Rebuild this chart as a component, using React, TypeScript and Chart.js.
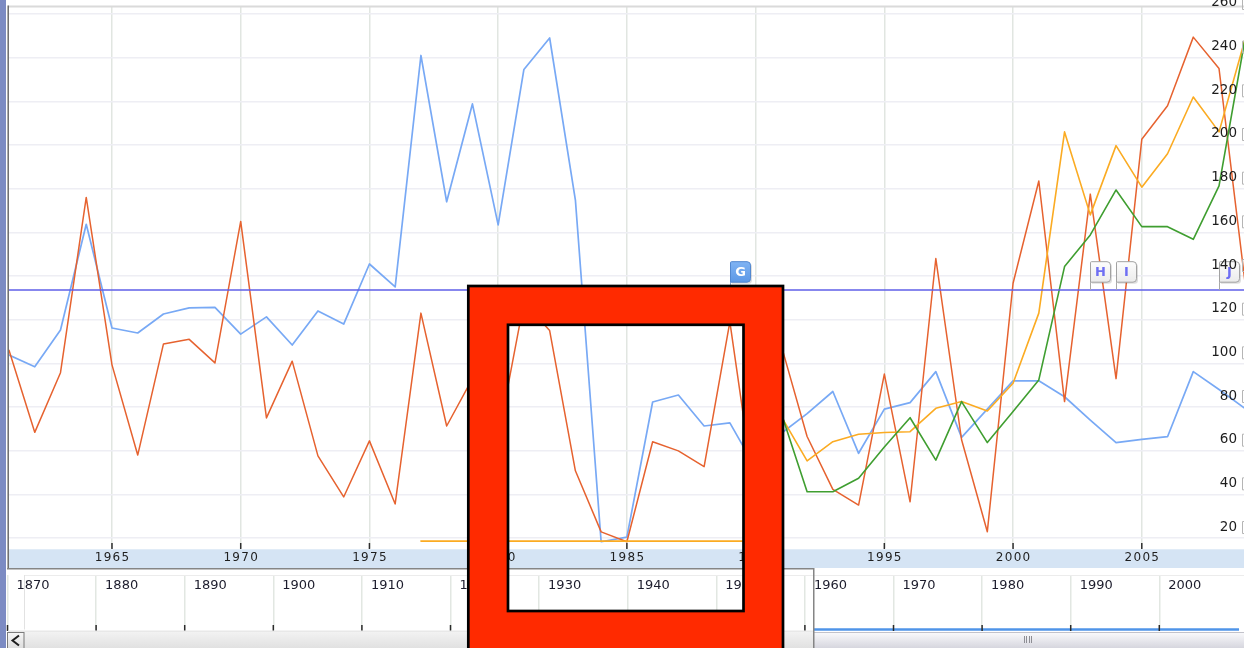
import React, { useEffect, useRef } from "react";
import { Chart, registerables } from "chart.js";

Chart.register(...registerables);

const W = 1244;
const H = 648;
const MAIN_H = 568;
const NAV_H = 80;

// ---------- data ----------
const years = [
  1961, 1962, 1963, 1964, 1965, 1966, 1967, 1968, 1969, 1970,
  1971, 1972, 1973, 1974, 1975, 1976, 1977, 1978, 1979, 1980,
  1981, 1982, 1983, 1984, 1985, 1986, 1987, 1988, 1989, 1990,
  1991, 1992, 1993, 1994, 1995, 1996, 1997, 1998, 1999, 2000,
  2001, 2002, 2003, 2004, 2005, 2006, 2007, 2008, 2009,
];

const seriesBlue = [
  103.8, 98.4, 115.3, 163.7, 116.2, 113.9, 122.6, 125.4, 125.6, 113.4,
  121.3, 108.4, 124, 118, 145.5, 135, 241, 174, 218.8, 163.4,
  234.6, 249, 174.8, 18.3, 20.4, 82.3, 85.5, 71.3, 72.7, 52,
  68, 77, 87.1, 58.8, 79, 82, 96.2, 66.1, 79, 92,
  92, 84.7, 74, 63.7, 65.2, 66.4, 96.2, 88, 79.4,
];

const seriesRed = [
  106, 68.4, 95.7, 176, 99.3, 58, 108.9, 111, 100.2, 165,
  75, 101, 57.6, 38.8, 64.5, 35.6, 123, 71.3, 93, 66,
  128, 115, 50.8, 22.8, 18.3, 64.1, 59.9, 52.7, 119, 37,
  108, 66.5, 42.3, 35.1, 95.1, 36.6, 148, 65, 22.9, 136.7,
  183.5, 82.5, 177.5, 93, 202.6, 218, 249.4, 235, 138,
];

const seriesOrange = [
  null, null, null, null, null, null, null, null, null, null,
  null, null, null, null, null, null, 18.6, 18.6, 18.6, 18.6,
  18.6, 18.6, 18.6, 18.6, 18.6, 18.6, 18.6, 18.6, 18.6, 18.6,
  75.6, 55.3, 64.1, 67.5, 68.3, 68.7, 79.4, 82.5, 78.2, 90.9,
  123, 206, 168, 199.7, 180.7, 196, 222, 206, 248,
];

const seriesGreen = [
  null, null, null, null, null, null, null, null, null, null,
  null, null, null, null, null, null, null, null, null, null,
  null, null, null, null, null, null, null, null, null, null,
  77, 41.2, 41.2, 47.4, 61.7, 75.1, 55.7, 82.5, 63.7, 77.9,
  92.4, 144.3, 158.8, 179.4, 162.6, 162.6, 156.8, 181.3, 248,
];

const referenceLevel = 133.6;

const yTickValues = [20, 40, 60, 80, 100, 120, 140, 160, 180, 200, 220, 240, 260];
const xTickYears = [1965, 1970, 1975, 1980, 1985, 1990, 1995, 2000, 2005];
const navDecades = [1870, 1880, 1890, 1900, 1910, 1920, 1930, 1940, 1950, 1960, 1970, 1980, 1990, 2000];

const annotationYears = [1989, 2003, 2004, 2008];
const annotationLabels = ["G", "H", "I", "J"];
const activeAnnotation = "G";

// ---------- helpers ----------
function toPoints(values: (number | null)[]) {
  return years.map((yr, i) => ({ x: yr, y: values[i] }));
}

function flagPath(ctx: CanvasRenderingContext2D, x: number, y: number, w: number, h: number, r: number) {
  ctx.beginPath();
  ctx.moveTo(x, y + 1);
  ctx.quadraticCurveTo(x, y, x + 1, y);
  ctx.lineTo(x + w - r, y);
  ctx.quadraticCurveTo(x + w, y, x + w, y + r);
  ctx.lineTo(x + w, y + h - r);
  ctx.quadraticCurveTo(x + w, y + h, x + w - r, y + h);
  ctx.lineTo(x, y + h);
  ctx.closePath();
}

const mainDecor = {
  id: "mainDecor",
  afterDatasetsDraw(chart: any) {
    const { ctx, scales } = chart;
    const xs = scales.x;
    const ys = scales.y;
    const lineY = ys.getPixelForValue(referenceLevel);
    ctx.save();
    annotationYears.forEach((yr, i) => {
      const label = annotationLabels[i];
      const active = label === activeAnnotation;
      const fx = Math.round(xs.getPixelForValue(yr)) + 0.5;
      const w = 20;
      const h = 20.5;
      const top = lineY - 28.3;
      ctx.strokeStyle = active ? "#8aa9d2" : "#a8a8a8";
      ctx.lineWidth = 1;
      ctx.beginPath();
      ctx.moveTo(fx, top + h);
      ctx.lineTo(fx, lineY);
      ctx.stroke();
      ctx.fillStyle = "rgba(0,0,0,0.13)";
      flagPath(ctx, fx + 1.5, top + 1.5, w, h, 3.5);
      ctx.fill();
      const g = ctx.createLinearGradient(0, top, 0, top + h);
      if (active) {
        g.addColorStop(0, "#7fb3f3");
        g.addColorStop(1, "#5c98e6");
      } else {
        g.addColorStop(0, "#fdfdfd");
        g.addColorStop(1, "#ebebeb");
      }
      ctx.fillStyle = g;
      flagPath(ctx, fx, top, w, h, 3.5);
      ctx.fill();
      ctx.strokeStyle = active ? "#5288d0" : "#a2a2a2";
      ctx.lineWidth = 1;
      ctx.stroke();
      ctx.font = 'bold 13px "DejaVu Sans"';
      ctx.textAlign = "center";
      ctx.textBaseline = "middle";
      ctx.fillStyle = active ? "#ffffff" : "#6e6ef3";
      ctx.fillText(label, fx + w / 2, top + h / 2 + 0.5);
    });
    ctx.restore();
  },
  afterDraw(chart: any) {
    const { ctx, chartArea: ca, scales } = chart;
    const xs = scales.x;
    const ys = scales.y;
    ctx.save();
    // top border
    ctx.strokeStyle = "#dadada";
    ctx.lineWidth = 2;
    ctx.beginPath();
    ctx.moveTo(8, ca.top - 0.5);
    ctx.lineTo(W, ca.top - 0.5);
    ctx.stroke();
    // left border
    ctx.strokeStyle = "#6a6a6a";
    ctx.lineWidth = 1.5;
    ctx.beginPath();
    ctx.moveTo(8.2, ca.top - 1.5);
    ctx.lineTo(8.2, MAIN_H);
    ctx.stroke();
    // date band
    ctx.fillStyle = "#d5e4f4";
    ctx.fillRect(ca.left, ca.bottom + 1.3, W - ca.left, MAIN_H - ca.bottom - 1.3);
    // ticks + labels
    ctx.strokeStyle = "#2e2e2e";
    ctx.lineWidth = 1.5;
    ctx.fillStyle = "#1f1f1f";
    ctx.font = '12px "DejaVu Sans"';
    (ctx as any).letterSpacing = "1.3px";
    ctx.textAlign = "center";
    ctx.textBaseline = "middle";
    xTickYears.forEach((v) => {
      const px = xs.getPixelForValue(v);
      ctx.beginPath();
      ctx.moveTo(px, ca.bottom - 5);
      ctx.lineTo(px, ca.bottom + 1);
      ctx.stroke();
      ctx.fillText(String(v), px + 0.6, ca.bottom + 10);
    });
    (ctx as any).letterSpacing = "0px";
    // y labels (inside, right side)
    ctx.font = '13.5px "DejaVu Sans"';
    ctx.textAlign = "right";
    ctx.fillStyle = "#1c1c1c";
    yTickValues.forEach((v) => {
      const py = ys.getPixelForValue(v);
      ctx.fillText(String(v), 1237, py - 11);
      ctx.strokeStyle = "#b5b5b5";
      ctx.lineWidth = 1;
      ctx.beginPath();
      ctx.moveTo(1244, py - 16.5);
      ctx.lineTo(1242.5, py - 16.5);
      ctx.lineTo(1242.5, py - 4.5);
      ctx.lineTo(1244, py - 4.5);
      ctx.stroke();
    });
    ctx.restore();
  },
};

const navDecor = {
  id: "navDecor",
  afterDraw(chart: any) {
    const { ctx, chartArea: ca, scales } = chart;
    const xs = scales.x;
    const selX = xs.getPixelForValue(years[0]);
    ctx.save();
    ctx.strokeStyle = "#ececec";
    ctx.lineWidth = 1;
    ctx.beginPath();
    ctx.moveTo(24, ca.top + 0.5);
    ctx.lineTo(W, ca.top + 0.5);
    ctx.stroke();
    ctx.strokeStyle = "#e2e2e2";
    ctx.beginPath();
    ctx.moveTo(24.5, ca.top);
    ctx.lineTo(24.5, ca.bottom);
    ctx.stroke();
    ctx.font = '13px "DejaVu Sans"';
    ctx.fillStyle = "#1c1c2c";
    ctx.textAlign = "left";
    ctx.textBaseline = "middle";
    ctx.strokeStyle = "#2a2a2a";
    ctx.lineWidth = 1.5;
    navDecades.forEach((d) => {
      const px = xs.getPixelForValue(d);
      ctx.fillText(String(d), px + 9, 17.5);
      ctx.beginPath();
      ctx.moveTo(px, ca.bottom - 4.5);
      ctx.lineTo(px, ca.bottom + 1.5);
      ctx.stroke();
    });
    const sbTop = 64;
    ctx.fillStyle = "#e8e8e8";
    ctx.fillRect(8, ca.bottom + 1, selX - 8, sbTop - ca.bottom - 1);
    const tg = ctx.createLinearGradient(0, sbTop, 0, NAV_H);
    tg.addColorStop(0, "#f2f2f2");
    tg.addColorStop(1, "#e1e1e1");
    ctx.fillStyle = tg;
    ctx.fillRect(24, sbTop, selX - 24, NAV_H - sbTop);
    const thg = ctx.createLinearGradient(0, sbTop, 0, NAV_H);
    thg.addColorStop(0, "#fbfbfd");
    thg.addColorStop(1, "#d6d6de");
    ctx.fillStyle = thg;
    ctx.fillRect(selX, sbTop, W - selX, NAV_H - sbTop);
    ctx.strokeStyle = "#c2c2ca";
    ctx.lineWidth = 1;
    ctx.beginPath();
    ctx.moveTo(selX, sbTop + 0.5);
    ctx.lineTo(W, sbTop + 0.5);
    ctx.stroke();
    const gc = (selX + W) / 2;
    ctx.strokeStyle = "#8e8e94";
    for (let k = -2; k < 2; k++) {
      const gx = Math.round(gc + k * 2.5) + 0.5;
      ctx.beginPath();
      ctx.moveTo(gx, sbTop + 4);
      ctx.lineTo(gx, sbTop + 11);
      ctx.stroke();
    }
    const bg = ctx.createLinearGradient(0, sbTop, 0, NAV_H);
    bg.addColorStop(0, "#f7f7f7");
    bg.addColorStop(1, "#dedede");
    ctx.fillStyle = bg;
    ctx.fillRect(7.5, sbTop, 16.5, NAV_H - sbTop);
    ctx.strokeStyle = "#7b7b7b";
    ctx.lineWidth = 1;
    ctx.strokeRect(7.5, sbTop + 0.5, 16.5, NAV_H - sbTop);
    ctx.strokeStyle = "#1e1e1e";
    ctx.lineWidth = 2;
    ctx.beginPath();
    ctx.moveTo(19, sbTop + 3.5);
    ctx.lineTo(12.5, sbTop + 8.5);
    ctx.lineTo(19, sbTop + 13.5);
    ctx.stroke();
    ctx.strokeStyle = "#858585";
    ctx.lineWidth = 1.5;
    ctx.beginPath();
    ctx.moveTo(7, 0.75);
    ctx.lineTo(selX, 0.75);
    ctx.lineTo(selX, NAV_H);
    ctx.stroke();
    ctx.restore();
  },
};

export default function App() {
  const mainRef = useRef<HTMLCanvasElement>(null);
  const navRef = useRef<HTMLCanvasElement>(null);

  useEffect(() => {
    const lineCommon = { pointRadius: 0, tension: 0, borderJoinStyle: "round", borderCapStyle: "round", spanGaps: false };
    const main = new Chart(mainRef.current as HTMLCanvasElement, {
      type: "line",
      data: {
        datasets: [
          {
            label: "Reference",
            data: [
              { x: years[0], y: referenceLevel },
              { x: years[years.length - 1], y: referenceLevel },
            ],
            borderColor: "#5f5fe8",
            borderWidth: 1.4,
            order: 0,
            ...lineCommon,
          },
          { label: "Blue", data: toPoints(seriesBlue), borderColor: "#78a9f5", borderWidth: 1.7, order: 4, ...lineCommon },
          { label: "Red", data: toPoints(seriesRed), borderColor: "#e6622f", borderWidth: 1.5, order: 3, ...lineCommon },
          { label: "Orange", data: toPoints(seriesOrange), borderColor: "#fbab22", borderWidth: 1.6, order: 2, ...lineCommon },
          { label: "Green", data: toPoints(seriesGreen), borderColor: "#3f9e30", borderWidth: 1.6, order: 1, ...lineCommon },
        ] as any,
      },
      options: {
        responsive: false,
        animation: false,
        devicePixelRatio: 1,
        parsing: false as any,
        normalized: true,
        layout: { padding: { left: 9, top: 7, right: 0, bottom: 20 } },
        plugins: { legend: { display: false }, tooltip: { enabled: false } },
        scales: {
          x: {
            type: "linear",
            min: 1961.0,
            max: 2008.97,
            afterBuildTicks: (s: any) => {
              s.ticks = xTickYears.map((v) => ({ value: v }));
            },
            ticks: { display: false },
            grid: { color: "#e1e6e1", lineWidth: 1.5, drawTicks: false },
            border: { display: false },
          },
          y: {
            type: "linear",
            position: "right",
            min: 15.43,
            max: 263.2,
            afterBuildTicks: (s: any) => {
              s.ticks = yTickValues.map((v) => ({ value: v }));
            },
            ticks: { display: false },
            grid: { color: "#eeeef4", lineWidth: 1.5, drawTicks: false },
            border: { display: false },
          },
        },
      } as any,
      plugins: [mainDecor],
    });

    const nav = new Chart(navRef.current as HTMLCanvasElement, {
      type: "line",
      data: {
        datasets: [
          {
            label: "Overview",
            data: years.map((yr) => ({ x: yr, y: 0 })),
            borderColor: "#4f94e8",
            borderWidth: 2.4,
            pointRadius: 0,
            tension: 0,
            clip: false,
          },
        ] as any,
      },
      options: {
        responsive: false,
        animation: false,
        devicePixelRatio: 1,
        parsing: false as any,
        layout: { padding: { left: 0, top: 7, right: 0, bottom: 18.5 } },
        plugins: { legend: { display: false }, tooltip: { enabled: false } },
        scales: {
          x: {
            type: "linear",
            min: 1869.153,
            max: 2009.56,
            afterBuildTicks: (s: any) => {
              s.ticks = navDecades.map((v) => ({ value: v }));
            },
            ticks: { display: false },
            grid: { color: "#e2e7e2", lineWidth: 1.5, drawTicks: false },
            border: { display: false },
          },
          y: { type: "linear", min: 0, max: 1, display: false },
        },
      } as any,
      plugins: [navDecor],
    });

    return () => {
      main.destroy();
      nav.destroy();
    };
  }, []);

  return (
    <div style={{ position: "fixed", left: 0, top: 0, width: W, height: H, overflow: "hidden", background: "#ffffff" }}>
      <canvas
        ref={mainRef}
        width={W}
        height={MAIN_H}
        style={{ position: "absolute", left: 0, top: 0, width: W, height: MAIN_H, display: "block" }}
      />
      <canvas
        ref={navRef}
        width={W}
        height={NAV_H}
        style={{ position: "absolute", left: 0, top: MAIN_H, width: W, height: NAV_H, display: "block" }}
      />
      <div style={{ position: "absolute", left: 0, top: 0, width: 6, height: H, background: "#7c8bc3" }} />
      <svg
        width={W}
        height={H}
        style={{ position: "absolute", left: 0, top: 0, pointerEvents: "none" }}
      >
        <path
          d="M468.3 286 H783 V720 H468.3 Z M508 324.8 V611 H743.5 V324.8 Z"
          fill="#ff2a00"
          fillRule="evenodd"
        />
        <rect x={468.3} y={286} width={314.7} height={434} fill="none" stroke="#000" strokeWidth={2.7} />
        <rect x={508} y={324.8} width={235.5} height={286.2} fill="none" stroke="#000" strokeWidth={2.7} />
      </svg>
    </div>
  );
}
